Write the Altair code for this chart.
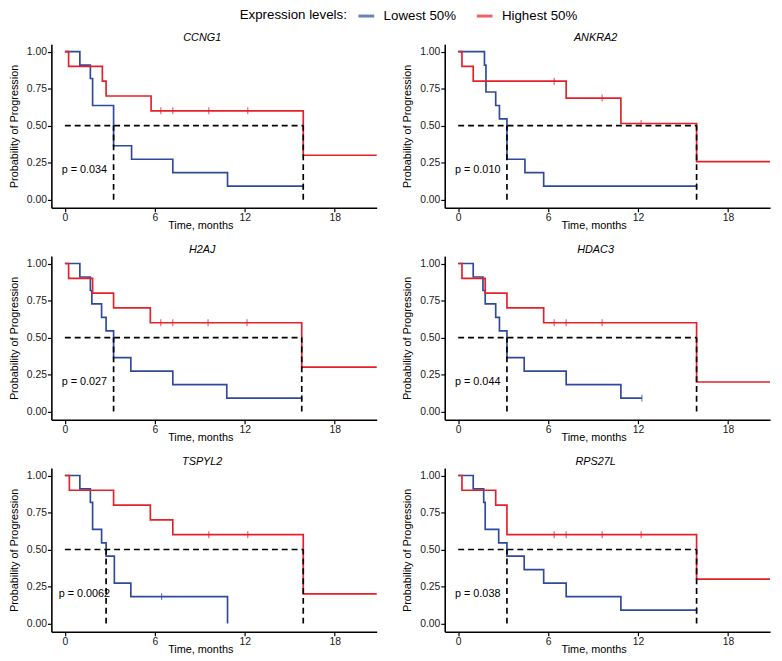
import altair as alt
import pandas as pd

FONT = "Liberation Sans"

GENES = ["CCNG1", "ANKRA2", "H2AJ", "HDAC3", "TSPYL2", "RPS27L"]
P_VALUES = ["p = 0.034", "p = 0.010", "p = 0.027", "p = 0.044", "p = 0.0062", "p = 0.038"]
GROUPS = ["Lowest 50%", "Highest 50%"]
COLORS = ["#2F4A9C", "#E4212B"]

# Lowest 50% (blue) curves: event times and survival after each event
LOW_TIMES = {
    "CCNG1": [1.0, 1.7, 1.85, 3.25, 4.45, 7.2, 10.85],
    "ANKRA2": [1.75, 1.85, 2.5, 2.75, 3.25, 4.45, 5.7],
    "H2AJ": [1.0, 1.7, 1.8, 2.45, 2.75, 3.25, 4.4, 7.2, 10.8],
    "HDAC3": [1.0, 1.65, 1.8, 2.5, 2.75, 3.25, 4.4, 7.2, 10.85],
    "TSPYL2": [1.0, 1.7, 1.85, 2.45, 2.75, 3.3, 4.4, 10.85],
    "RPS27L": [1.0, 1.7, 1.8, 2.7, 3.25, 4.4, 5.7, 7.2, 10.85],
}
LOW_SURV = {
    "CCNG1": [0.909, 0.818, 0.636, 0.364, 0.273, 0.182, 0.091],
    "ANKRA2": [0.909, 0.727, 0.636, 0.545, 0.273, 0.182, 0.091],
    "H2AJ": [0.909, 0.818, 0.727, 0.636, 0.545, 0.364, 0.273, 0.182, 0.091],
    "HDAC3": [0.909, 0.818, 0.727, 0.636, 0.545, 0.364, 0.273, 0.182, 0.091],
    "TSPYL2": [0.909, 0.818, 0.636, 0.545, 0.455, 0.273, 0.182, 0.0],
    "RPS27L": [0.909, 0.818, 0.636, 0.545, 0.455, 0.364, 0.273, 0.182, 0.091],
}
LOW_END = {"CCNG1": 15.9, "ANKRA2": 15.9, "H2AJ": 15.8, "HDAC3": 12.25, "TSPYL2": 10.85, "RPS27L": 15.9}
LOW_CENS = {"CCNG1": [15.9], "ANKRA2": [15.9], "H2AJ": [15.8], "HDAC3": [12.25], "TSPYL2": [6.45], "RPS27L": [15.9]}

# Highest 50% (red) curves
HIGH_TIMES = {
    "CCNG1": [0.25, 2.5, 2.75, 5.75, 15.9],
    "ANKRA2": [0.25, 1.0, 7.2, 10.85, 15.9],
    "H2AJ": [0.25, 1.85, 3.25, 5.7, 15.8],
    "HDAC3": [0.25, 1.8, 3.25, 5.7, 15.9],
    "TSPYL2": [0.3, 3.25, 5.7, 7.2, 15.9],
    "RPS27L": [0.25, 2.5, 3.25, 15.9],
}
HIGH_SURV = {
    "CCNG1": [0.9, 0.8, 0.7, 0.6, 0.3],
    "ANKRA2": [0.9, 0.8, 0.686, 0.514, 0.257],
    "H2AJ": [0.9, 0.8, 0.7, 0.6, 0.3],
    "HDAC3": [0.9, 0.8, 0.7, 0.6, 0.2],
    "TSPYL2": [0.9, 0.8, 0.7, 0.6, 0.2],
    "RPS27L": [0.9, 0.8, 0.6, 0.3],
}
HIGH_END = {g: 20.8 for g in GENES}
HIGH_CENS = {
    "CCNG1": [6.4, 7.2, 9.6, 12.2],
    "ANKRA2": [6.4, 9.6, 12.2],
    "H2AJ": [6.4, 7.2, 9.55, 12.15],
    "HDAC3": [6.4, 7.2, 9.6],
    "TSPYL2": [9.6, 12.2],
    "RPS27L": [6.4, 7.2, 9.6, 12.2],
}

MED_LOW = {"CCNG1": 3.25, "ANKRA2": 3.25, "H2AJ": 3.25, "HDAC3": 3.25, "TSPYL2": 2.75, "RPS27L": 3.25}
MED_HIGH = {"CCNG1": 15.9, "ANKRA2": 15.9, "H2AJ": 15.8, "HDAC3": 15.9, "TSPYL2": 15.9, "RPS27L": 15.9}

X_DOMAIN = [-0.9, 20.8]
Y_DOMAIN = [-0.055, 1.05]
P_X, P_Y = 1.3, 0.2


def surv_at(times, surv, c):
    s = 1.0
    for t, v in zip(times, surv):
        if t <= c:
            s = v
    return s


def curve_rows(gene, group, times, surv, end):
    pts = [(0.0, 1.0)] + list(zip(times, surv))
    if end > times[-1]:
        pts.append((end, surv[-1]))
    return [{"gene": gene, "group": group, "idx": i, "t": t, "s": s} for i, (t, s) in enumerate(pts)]


line_rows, cens_rows, rule_rows = [], [], []
for g in GENES:
    line_rows += curve_rows(g, GROUPS[0], LOW_TIMES[g], LOW_SURV[g], LOW_END[g])
    line_rows += curve_rows(g, GROUPS[1], HIGH_TIMES[g], HIGH_SURV[g], HIGH_END[g])
    for c in LOW_CENS[g]:
        cens_rows.append({"gene": g, "group": GROUPS[0], "t": c, "s": surv_at(LOW_TIMES[g], LOW_SURV[g], c)})
    for c in HIGH_CENS[g]:
        cens_rows.append({"gene": g, "group": GROUPS[1], "t": c, "s": surv_at(HIGH_TIMES[g], HIGH_SURV[g], c)})
    mmax = max(MED_LOW[g], MED_HIGH[g])
    rule_rows.append({"gene": g, "x": 0.0, "x2": mmax, "y": 0.5, "y2": 0.5})
    rule_rows.append({"gene": g, "x": MED_LOW[g], "x2": MED_LOW[g], "y": 0.0, "y2": 0.5})
    rule_rows.append({"gene": g, "x": MED_HIGH[g], "x2": MED_HIGH[g], "y": 0.0, "y2": 0.5})

lines_df = pd.DataFrame(line_rows)
cens_df = pd.DataFrame(cens_rows)
rules_df = pd.DataFrame(rule_rows)

x_scale = alt.Scale(domain=X_DOMAIN, nice=False, zero=False)
y_scale = alt.Scale(domain=Y_DOMAIN, nice=False, zero=False)
x_axis = alt.Axis(values=[0, 6, 12, 18], title="Time, months", titleX=151, titleY=12)
y_axis = alt.Axis(values=[0, 0.25, 0.5, 0.75, 1.0], format=".2f", title="Probability of Progression")

legend = alt.Legend(
    orient="none", legendX=191, legendY=-38, direction="horizontal",
    title="Expression levels:", titleOrient="left", titleFont=FONT, titleFontSize=13.5,
    titleFontWeight="normal", titleColor="black", titlePadding=10,
    labelFont=FONT, labelFontSize=13.5, labelColor="black", labelOffset=8,
    symbolType="stroke", symbolStrokeWidth=3, symbolSize=256, columnPadding=14,
)
color = alt.Color("group:N", scale=alt.Scale(domain=GROUPS, range=COLORS), legend=legend)


def panel(g, p):
    ld = lines_df[lines_df.gene == g]
    cd = cens_df[cens_df.gene == g]
    rd = rules_df[rules_df.gene == g]
    X = alt.X("t:Q", scale=x_scale, axis=x_axis)
    Y = alt.Y("s:Q", scale=y_scale, axis=y_axis)
    low = alt.Chart(ld[ld.group == GROUPS[0]]).mark_line(interpolate="step-after", strokeWidth=1.7).encode(
        x=X, y=Y, color=color, order="idx:Q")
    high = alt.Chart(ld[ld.group == GROUPS[1]]).mark_line(interpolate="step-after", strokeWidth=1.7).encode(
        x=X, y=Y, color=color, order="idx:Q")
    ticks = alt.Chart(cd).mark_tick(orient="vertical", size=7, thickness=1.2).encode(x=X, y=Y, color=color)
    rules = alt.Chart(rd).mark_rule(strokeDash=[6, 4], strokeWidth=1.7, color="black").encode(
        x=alt.X("x:Q", scale=x_scale, axis=x_axis), x2="x2:Q",
        y=alt.Y("y:Q", scale=y_scale, axis=y_axis), y2="y2:Q")
    text = alt.Chart(pd.DataFrame({"p": [p]})).mark_text(
        font=FONT, fontSize=11, align="center", baseline="middle", color="black").encode(
        x=alt.datum(P_X, scale=x_scale), y=alt.datum(P_Y, scale=y_scale), text="p:N")
    return alt.layer(low, high, ticks, rules, text).properties(
        width=330, height=166,
        title=alt.TitleParams(text=g, font=FONT, fontSize=11, fontStyle="italic", fontWeight="normal",
                              anchor="middle", frame="group", dx=-12, offset=1, color="black"),
    )


charts = [panel(g, p) for g, p in zip(GENES, P_VALUES)]

chart = alt.concat(*charts, columns=2, spacing={"row": 14, "column": 21}).resolve_scale(
    color="shared").properties(padding={"left": 0, "top": -6, "right": 0, "bottom": 0}).configure_view(
    stroke=None).configure_axis(
    domainColor="black", domainWidth=1.6, tickColor="black", tickWidth=1.2, tickSize=4, grid=False,
    labelFont=FONT, labelFontSize=10.5, labelColor="#1a1a1a", labelPadding=1,
    titleFont=FONT, titleFontSize=11, titleFontWeight="normal", titleColor="black",
).configure_axisY(titlePadding=7)

chart.save("out.html", embed_options={"renderer": "svg", "actions": False})
